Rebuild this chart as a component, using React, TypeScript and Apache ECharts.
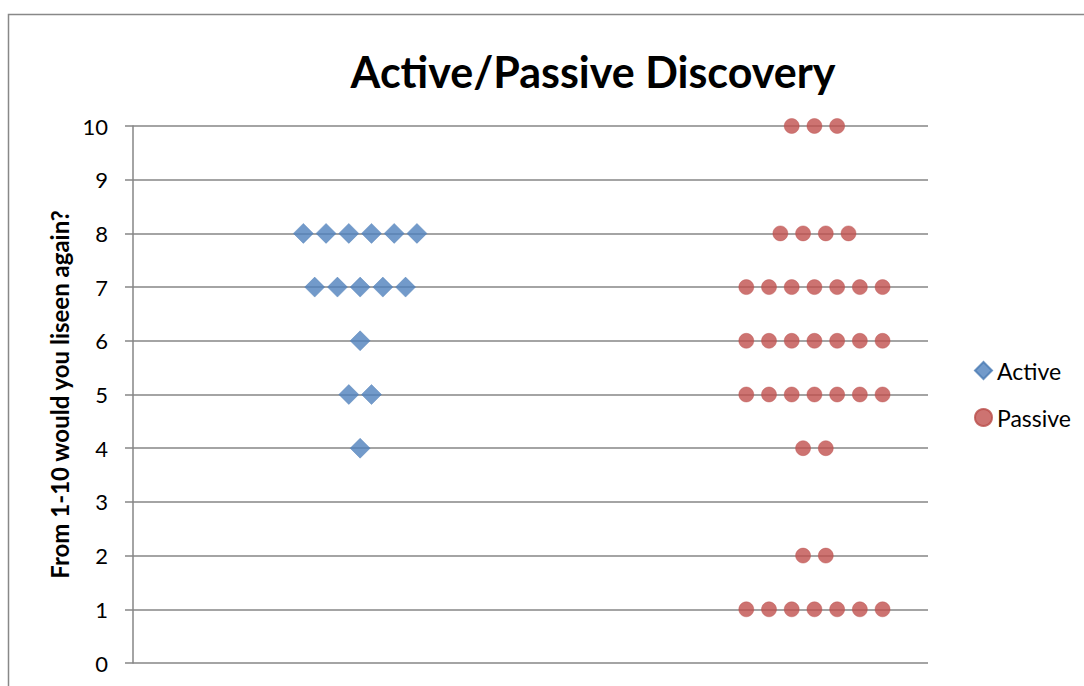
import React, { useEffect, useRef } from "react";
import * as echarts from "echarts";

const yTicks = [0, 1, 2, 3, 4, 5, 6, 7, 8, 9, 10];

// Active responses: [x offset position, score]
const activeX = [0.75, 0.85, 0.95, 1.05, 1.15, 1.25, 0.8, 0.9, 1.0, 1.1, 1.2, 1.0, 0.95, 1.05, 1.0];
const activeY = [8, 8, 8, 8, 8, 8, 7, 7, 7, 7, 7, 6, 5, 5, 4];

// Passive responses
const passiveX = [
  2.9, 3.0, 3.1,
  2.85, 2.95, 3.05, 3.15,
  2.7, 2.8, 2.9, 3.0, 3.1, 3.2, 3.3,
  2.7, 2.8, 2.9, 3.0, 3.1, 3.2, 3.3,
  2.7, 2.8, 2.9, 3.0, 3.1, 3.2, 3.3,
  2.95, 3.05,
  2.95, 3.05,
  2.7, 2.8, 2.9, 3.0, 3.1, 3.2, 3.3,
];
const passiveY = [
  10, 10, 10,
  8, 8, 8, 8,
  7, 7, 7, 7, 7, 7, 7,
  6, 6, 6, 6, 6, 6, 6,
  5, 5, 5, 5, 5, 5, 5,
  4, 4,
  2, 2,
  1, 1, 1, 1, 1, 1, 1,
];

export default function App() {
  const ref = useRef<HTMLDivElement>(null);
  useEffect(() => {
    if (!ref.current) return;
    const chart = echarts.init(ref.current, undefined, { renderer: "svg" });
    const font = "Lato, 'Open Sans', sans-serif";
    chart.setOption({
      animation: false,
      backgroundColor: "#ffffff",
      title: {
        text: "Active/Passive Discovery",
        left: 588,
        textAlign: "center",
        top: 45,
        textStyle: { fontFamily: font, fontSize: 43, fontWeight: "bold", color: "#000" },
      },
      legend: {
        orient: "vertical",
        left: 969,
        top: 354,
        itemGap: 24,
        itemWidth: 17,
        itemHeight: 17,
        textStyle: { fontFamily: font, fontSize: 23, color: "#000" },
        data: ["Active", "Passive"],
      },
      graphic: [
        {
          type: "rect",
          shape: { x: 8.5, y: 14.5, width: 1200, height: 800 },
          style: { fill: "none", stroke: "#888888", lineWidth: 1.5 },
        },
      ],
      grid: { left: 133, right: 156, top: 126, bottom: 23 },
      xAxis: {
        type: "value",
        min: 0,
        max: 3.5,
        axisLine: { show: false },
        axisTick: { show: false },
        axisLabel: { show: false },
        splitLine: { show: false },
      },
      yAxis: {
        type: "value",
        min: 0,
        max: 10,
        interval: 1,
        name: "From 1-10 would you liseen again?",
        nameLocation: "middle",
        nameGap: 62,
        nameTextStyle: { fontFamily: font, fontSize: 24, fontWeight: "bold", color: "#000" },
        axisLine: { show: true, lineStyle: { color: "#868686", width: 1.5 } },
        axisTick: { show: true, length: 8, lineStyle: { color: "#868686", width: 1.5 } },
        axisLabel: {
          fontFamily: font,
          fontSize: 22,
          color: "#000",
          margin: 25,
          formatter: (v: number) => (yTicks.includes(v) ? String(v) : ""),
        },
        splitLine: { show: true, lineStyle: { color: "#868686", width: 1.5 } },
      },
      series: [
        {
          name: "Active",
          type: "scatter",
          symbol: "diamond",
          symbolSize: 20,
          itemStyle: { color: "#4F81BD", borderColor: "#4a7ab3", borderWidth: 0.5 },
          data: activeX.map((x, i) => [x, activeY[i]]),
        },
        {
          name: "Passive",
          type: "scatter",
          symbol: "circle",
          symbolSize: 15,
          itemStyle: { color: "#C0504D", borderColor: "#b94c49", borderWidth: 0.5 },
          data: passiveX.map((x, i) => [x, passiveY[i]]),
        },
      ],
    });
    return () => chart.dispose();
  }, []);
  return (
    <div
      ref={ref}
      style={{ position: "fixed", left: 0, top: 0, width: 1084, height: 686 }}
    />
  );
}
